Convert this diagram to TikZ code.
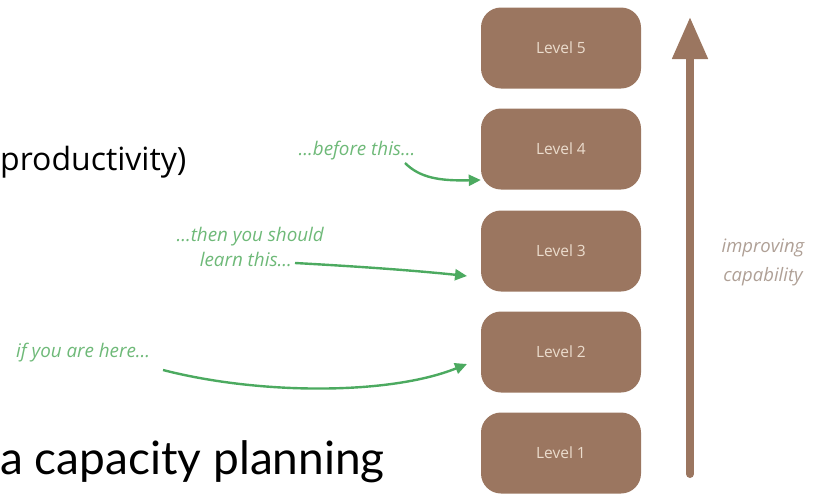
\documentclass[tikz,border=0pt]{standalone}
\usepackage{fontspec}
\setmainfont{Open Sans}
\newfontfamily\latofont{Lato}
\usetikzlibrary{arrows.meta}
\definecolor{brownbox}{RGB}{155,118,96}
\definecolor{leveltxt}{RGB}{235,220,205}
\definecolor{greenarr}{RGB}{76,170,96}
\definecolor{greentxt}{RGB}{110,185,120}
\definecolor{captxt}{RGB}{175,160,150}
\tikzset{
  levelbox/.style={fill=brownbox, rounded corners=20pt, minimum width=160pt, minimum height=81pt, inner sep=0pt, text=leveltxt, font=\fontsize{15.5}{18}\selectfont},
  greenlabel/.style={text=greentxt, font=\itshape\fontsize{18.8}{22}\selectfont, inner sep=0pt, align=center},
  greenarrow/.style={draw=greenarr, line width=2.4pt, -{Triangle[length=12pt,width=11pt]}},
  bigarrow/.style={draw=brownbox, line width=8pt, line cap=round, -{Triangle[length=42pt,width=34pt]}}
}
\begin{document}
\begin{tikzpicture}[x=1pt,y=-1pt]
\useasboundingbox (0,0) rectangle (819,498);
\clip (0,0) rectangle (819,498);
% left texts
\node[anchor=west, inner sep=0pt, font=\fontsize{32}{36}\selectfont] (prod) at (0,162) {productivity)};
\node[anchor=west, inner sep=0pt, font=\latofont\fontsize{46}{52}\selectfont] (cap) at (0,462) {a capacity planning};
% level boxes
\node[levelbox] (l5) at (561,48) {Level 5};
\node[levelbox] (l4) at (561,149) {Level 4};
\node[levelbox] (l3) at (561,251) {Level 3};
\node[levelbox] (l2) at (561,352) {Level 2};
\node[levelbox] (l1) at (561,453) {Level 1};
% big arrow
\coordinate (abot) at (690,474);
\coordinate (atop) at (690,17);
\draw[bigarrow] (abot) -- (atop);
\node[text=captxt, font=\itshape\fontsize{18.5}{29}\selectfont, align=center, inner sep=0pt] (impr) at (763,262) {improving\\capability};
% green labels and arrows
\node[greenlabel] (before) at (357,151) {...before this...};
\node[greenlabel, anchor=east] (then) at (324,237) {...then you should};
\node[greenlabel, anchor=east] (learn) at (292,259) {learn this...};
\node[greenlabel, anchor=west] (here) at (16,353) {if you are here...};
\coordinate (b0) at (405,163);
\coordinate (t0) at (295,263);
\coordinate (h0) at (163,370);
\draw[greenarrow] (b0) .. controls (420,178) and (440,181) .. (l4.west |- 0,180);
\draw[greenarrow] (t0) .. controls (350,266) and (410,270) .. (467,276);
\draw[greenarrow] (h0) .. controls (260,395) and (390,395) .. (467,364);
\end{tikzpicture}
\end{document}
